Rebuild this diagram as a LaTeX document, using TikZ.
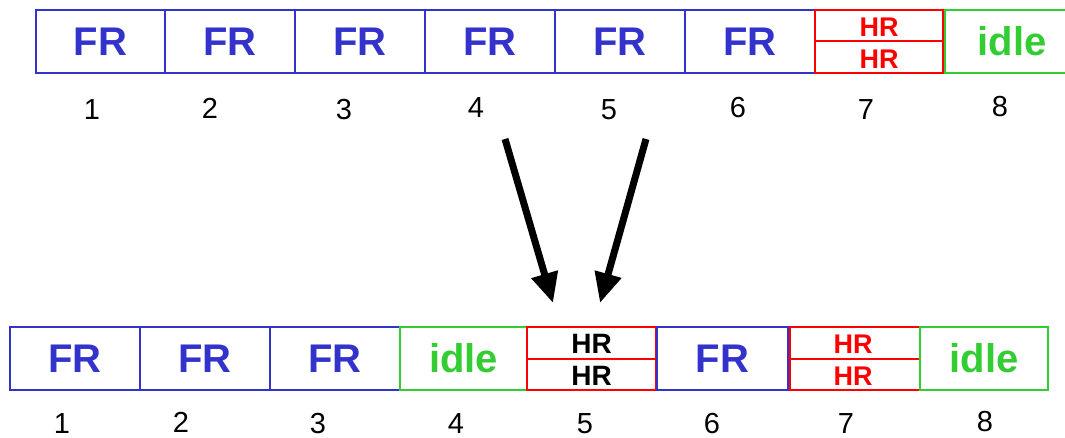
\documentclass[tikz,border=0pt]{standalone}
\usepackage{fontspec}
\setmainfont{Liberation Sans}
\usetikzlibrary{arrows.meta}
\definecolor{frblue}{HTML}{3333CC}
\definecolor{hrred}{HTML}{FF0000}
\definecolor{idlegreen}{HTML}{33CC33}
\tikzset{
  cell/.style={draw, line width=2pt, inner sep=0pt, minimum height=63pt},
  frcell/.style={cell, draw=frblue, text=frblue, font=\fontsize{40}{40}\selectfont\bfseries},
  idlecell/.style={cell, draw=idlegreen, text=idlegreen, font=\fontsize{40}{40}\selectfont\bfseries},
  hrcell/.style={cell, draw=hrred},
  hrtext/.style={inner sep=0pt, font=\fontsize{27}{27}\selectfont\bfseries, text=hrred},
  hrtextbig/.style={inner sep=0pt, font=\fontsize{28}{28}\selectfont\bfseries, text=black},
  slotnum/.style={inner sep=0pt, font=\fontsize{29}{29}\selectfont},
  move/.style={line width=7pt, -{Triangle[length=30pt,width=26pt]}}
}
\begin{document}
\begin{tikzpicture}[x=1pt,y=-1pt]
\useasboundingbox (0,0) rectangle (1065,438);

% upper row of slots
\node[frcell, minimum width=129pt] (t1) at (100.5,41.5) {FR};
\node[frcell, minimum width=130pt] (t2) at (230,41.5) {FR};
\node[frcell, minimum width=130pt] (t3) at (360,41.5) {FR};
\node[frcell, minimum width=130pt] (t4) at (490,41.5) {FR};
\node[frcell, minimum width=130pt] (t5) at (620,41.5) {FR};
\node[frcell, minimum width=130pt] (t6) at (750,41.5) {FR};
\node[hrcell, minimum width=128pt] (t7) at (879,41.5) {};
\draw[hrred, line width=2pt] (t7.west) -- (t7.east);
\node[hrtext] (t7a) at (879,27.5) {HR};
\node[hrtext] (t7b) at (879,59) {HR};
\node[idlecell, minimum width=134pt] (t8) at (1012,41.5) {idle};

% upper slot numbers
\node[slotnum] (n1) at (92,110) {1};
\node[slotnum] (n2) at (210,108) {2};
\node[slotnum] (n3) at (344,110) {3};
\node[slotnum] (n4) at (476,108) {4};
\node[slotnum] (n5) at (609,110) {5};
\node[slotnum] (n6) at (738,108) {6};
\node[slotnum] (n7) at (866,110) {7};
\node[slotnum] (n8) at (1000,107) {8};

% lower row of slots
\node[frcell, minimum width=130pt] (b1) at (75,358.5) {FR};
\node[frcell, minimum width=130pt] (b2) at (205,358.5) {FR};
\node[frcell, minimum width=130pt] (b3) at (335,358.5) {FR};
\node[idlecell, minimum width=127pt] (b4) at (463.5,358.5) {idle};
\node[hrcell, minimum width=129pt] (b5) at (591.5,358.5) {};
\draw[hrred, line width=2pt] (b5.west) -- (b5.east);
\node[hrtextbig] (b5a) at (591.5,343.5) {HR};
\node[hrtextbig] (b5b) at (591.5,375.5) {HR};
\node[frcell, minimum width=131pt] (b6) at (722.5,358.5) {FR};
\node[hrcell, minimum width=130pt] (b7) at (855,358.5) {};
\draw[hrred, line width=2pt] (b7.west) -- (b7.east);
\node[hrtext] (b7a) at (853,344) {HR};
\node[hrtext] (b7b) at (853,376) {HR};
\node[idlecell, minimum width=128pt] (b8) at (984,358.5) {idle};

% lower slot numbers
\node[slotnum] (m1) at (62,424) {1};
\node[slotnum] (m2) at (181,422) {2};
\node[slotnum] (m3) at (318,424) {3};
\node[slotnum] (m4) at (456,424) {4};
\node[slotnum] (m5) at (585,424) {5};
\node[slotnum] (m6) at (712,424) {6};
\node[slotnum] (m7) at (846,424) {7};
\node[slotnum] (m8) at (985,422) {8};

% slots 4 and 5 merged into one HR slot
\coordinate (s4) at (505,139);
\coordinate (e4) at (553,303);
\coordinate (s5) at (646,139);
\coordinate (e5) at (600,303);
\draw[move] (s4) -- (e4);
\draw[move] (s5) -- (e5);
\end{tikzpicture}
\end{document}
